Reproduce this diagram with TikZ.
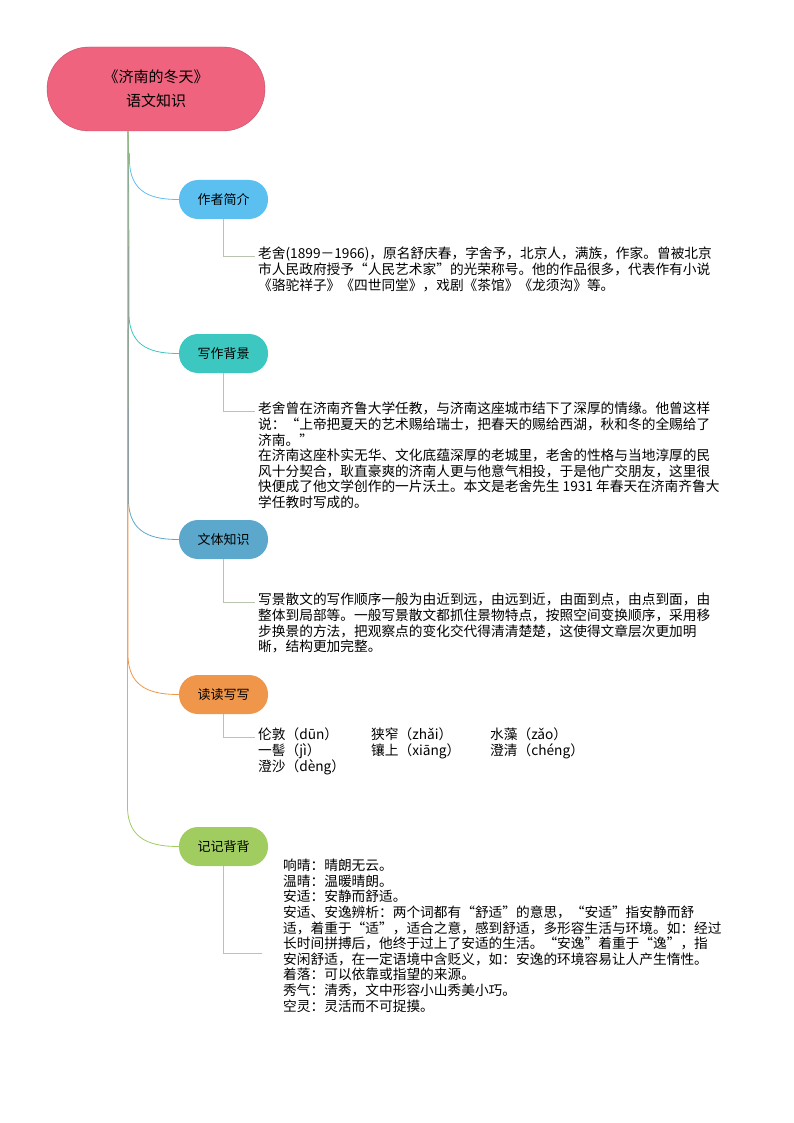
\documentclass[tikz,border=0pt]{standalone}
\usetikzlibrary{calc}
\usepackage{fontspec}
\setmainfont{Noto Sans CJK SC}
\begin{document}
\begin{tikzpicture}[x=1pt,y=-1pt,
  br/.style={rounded corners=19pt,minimum width=89pt,minimum height=39pt,font=\fontsize{13}{15}\selectfont,inner sep=0pt},
  txt/.style={anchor=north west,align=left,inner sep=0pt,font=\fontsize{13.7}{15.6}\selectfont},
  lk/.style={line width=0.8pt}]
\useasboundingbox (0,0) rectangle (794,1123);
\definecolor{cRoot}{HTML}{F0637E}
\definecolor{cA}{HTML}{5BC0F0}
\definecolor{cB}{HTML}{3CC8C0}
\definecolor{cC}{HTML}{5BA8CC}
\definecolor{cD}{HTML}{F0964A}
\definecolor{cE}{HTML}{A0CC60}
\definecolor{cL}{HTML}{B8C4B0}
\node[fill=cRoot,draw=cRoot!80!black,rounded corners=42pt,minimum width=218pt,minimum height=84pt,align=center,font=\fontsize{15}{24}\selectfont] (root) at (156,89) {《济南的冬天》\\语文知识};
\coordinate (r0) at (128,131);
\node[br,fill=cA] (a) at (223.5,199.5) {作者简介};
\node[br,fill=cB] (b) at (223.5,353.5) {写作背景};
\node[br,fill=cC] (c) at (223.5,539.5) {文体知识};
\node[br,fill=cD] (d) at (223.5,694.5) {读读写写};
\node[br,fill=cE] (e) at (223.5,846.5) {记记背背};
\foreach \n/\c/\o in {a/cA/1.5,b/cB/1,c/cC/0.5,d/cD/0,e/cE/-0.5}{
  \draw[lk,\c] (r0) .. controls ($(r0)+(\o,60)$) and ($(r0|-\n.west)+(\o,-60)$) .. ($(r0|-\n.west)+(\o,-40)$) .. controls ($(r0|-\n.west)+(\o,-5)$) and ($(\n.west)+(-25,0)$) .. (\n.west);
}
\node[txt] (ta) at (258,247) {老舍(1899－1966)，原名舒庆春，字舍予，北京人，满族，作家。曾被北京\\市人民政府授予“人民艺术家”的光荣称号。他的作品很多，代表作有小说\\《骆驼祥子》《四世同堂》，戏剧《茶馆》《龙须沟》等。};
\node[txt] (tb) at (258,402) {老舍曾在济南齐鲁大学任教，与济南这座城市结下了深厚的情缘。他曾这样\\说：“上帝把夏天的艺术赐给瑞士，把春天的赐给西湖，秋和冬的全赐给了\\济南。”\\在济南这座朴实无华、文化底蕴深厚的老城里，老舍的性格与当地淳厚的民\\风十分契合，耿直豪爽的济南人更与他意气相投，于是他广交朋友，这里很\\快便成了他文学创作的一片沃土。本文是老舍先生 1931 年春天在济南齐鲁大\\学任教时写成的。};
\node[txt] (tc) at (258,593) {写景散文的写作顺序一般为由近到远，由远到近，由面到点，由点到面，由\\整体到局部等。一般写景散文都抓住景物特点，按照空间变换顺序，采用移\\步换景的方法，把观察点的变化交代得清清楚楚，这使得文章层次更加明\\晰，结构更加完整。};
\node[txt] (td) at (258,728) {伦敦（dūn）\\一髻（jì）\\澄沙（dèng）};
\node[txt] (td2) at (371,728) {狭窄（zhǎi）\\镶上（xiāng）};
\node[txt] (td3) at (490,728) {水藻（zǎo）\\澄清（chéng）};
\node[txt] (te) at (283,859) {响晴：晴朗无云。\\温晴：温暖晴朗。\\安适：安静而舒适。\\安适、安逸辨析：两个词都有“舒适”的意思，“安适”指安静而舒\\适，着重于“适”，适合之意，感到舒适，多形容生活与环境。如：经过\\长时间拼搏后，他终于过上了安适的生活。“安逸”着重于“逸”，指\\安闲舒适，在一定语境中含贬义，如：安逸的环境容易让人产生惰性。\\着落：可以依靠或指望的来源。\\秀气：清秀，文中形容小山秀美小巧。\\空灵：灵活而不可捉摸。};
\foreach \n/\t in {a/ta,b/tb,c/tc,d/td}{
  \draw[cL,line width=0.6pt] (\n.south) |- ($(\t.north west)+(-3,9)$);
}
\draw[cL,line width=0.6pt] (e.south) |- ($(te.north west)+(-21,94)$);
\end{tikzpicture}
\end{document}
